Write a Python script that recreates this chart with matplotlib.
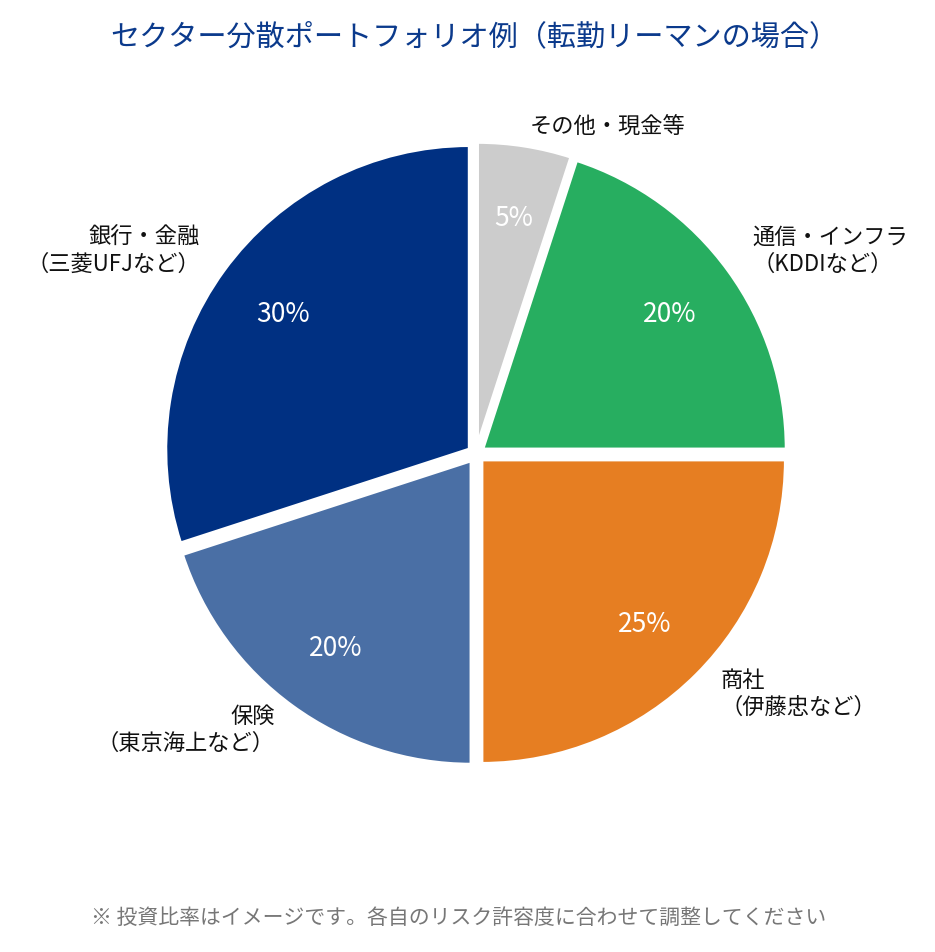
import numpy as np
import matplotlib
matplotlib.use("Agg")
import matplotlib.pyplot as plt

plt.rcParams['font.family'] = ['Noto Sans CJK JP', 'DejaVu Sans']

# data (counterclockwise from 12 o'clock)
sectors = ["銀行・金融\n（三菱UFJなど）", "保険\n（東京海上など）", "商社\n（伊藤忠など）",
           "通信・インフラ\n（KDDIなど）", "その他・現金等"]
weights = [30, 20, 25, 20, 5]
colors = ["#003082", "#4a6fa5", "#e67e22", "#27ae60", "#cccccc"]

title = "セクター分散ポートフォリオ例（転勤リーマンの場合）"
note = "※ 投資比率はイメージです。各自のリスク許容度に合わせて調整してください"

W, H = 935, 953
fig = plt.figure(figsize=(W / 100, H / 100), dpi=100)
ax = fig.add_axes([0, 0, 1, 1])

# explode is in data units (pixels here), not a fraction of the radius
cx, cy, r = 476, H - 455, 304
wedges, texts, autotexts = ax.pie(
    weights, colors=colors, startangle=90, counterclock=True,
    center=(cx, cy), radius=r, explode=[8] * len(weights),
    autopct="%d%%", pctdistance=0.76,
    wedgeprops=dict(edgecolor="white", linewidth=2.5),
    textprops=dict(color="white", fontsize=19),
)
ax.set_xlim(0, W)
ax.set_ylim(0, H)
ax.set_aspect("auto")
ax.axis("off")

# outside labels: (x, y in pixels from top, ha)
label_pos = [(200, 251, "right"), (275, 730, "right"), (720, 694, "left"),
             (752, 251, "left"), (530, 127, "left")]
for lab, (x, y, ha) in zip(sectors, label_pos):
    ax.text(x, H - y, lab, ha=ha, va="center", multialignment=ha,
            fontsize=16, color="#111111", linespacing=1.25)

fig.text(474 / W, 1 - 37 / H, title, ha="center", va="center",
         fontsize=21, color="#0b3a8c")
fig.text(459 / W, 1 - 918 / H, note, ha="center", va="center",
         fontsize=15, color="#777777")

fig.savefig("out.png", dpi=100, facecolor="white")
